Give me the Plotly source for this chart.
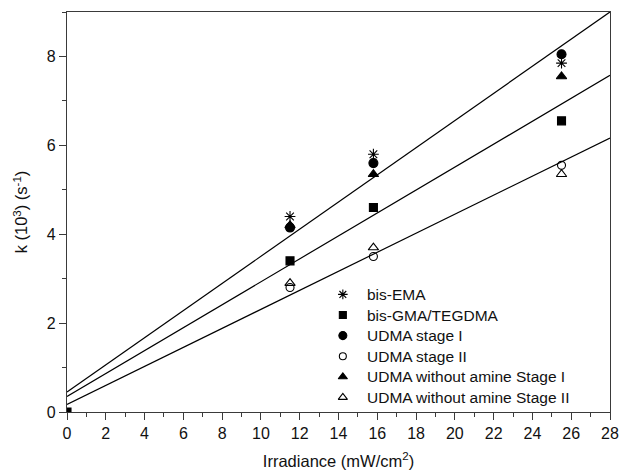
import plotly.graph_objects as go

# Irradiance levels (mW/cm^2) and rate constants k (10^3 s^-1)
irradiance = [11.5, 15.8, 25.5]
bis_ema = [4.4, 5.8, 7.85]
bis_gma_tegdma = [3.4, 4.6, 6.55]
udma_stage1 = [4.15, 5.6, 8.05]
udma_stage2 = [2.8, 3.5, 5.55]
udma_noamine_stage1 = [4.2, 5.35, 7.55]
udma_noamine_stage2 = [2.9, 3.7, 5.35]

# origin point shown for bis-GMA/TEGDMA
origin_x = [0.0]
origin_y = [0.0]

# linear fits: k = intercept + slope * irradiance
fit_intercepts = [0.45, 0.35, 0.17]
fit_slopes = [0.3054, 0.258, 0.214]
fit_x = [0, 28]

series_names = [
    "bis-EMA",
    "bis-GMA/TEGDMA",
    "UDMA stage I",
    "UDMA stage II",
    "UDMA without amine Stage I",
    "UDMA without amine Stage II",
]

FONT = "Liberation Sans, Arial, sans-serif"
INK = "#000000"
AXIS = "#3a3a3a"

fig = go.Figure()

for b, m in zip(fit_intercepts, fit_slopes):
    fig.add_trace(go.Scatter(
        x=fit_x, y=[b + m * xv for xv in fit_x], mode="lines",
        line=dict(color=INK, width=1.2), showlegend=False, hoverinfo="skip",
    ))

series_x = [irradiance, origin_x + irradiance, irradiance, irradiance, irradiance, irradiance]
series_y = [bis_ema, origin_y + bis_gma_tegdma, udma_stage1, udma_stage2,
            udma_noamine_stage1, udma_noamine_stage2]
symbols = ["asterisk-open", "square", "circle", "circle-open", "triangle-up", "triangle-up-open"]
sizes = [9, 8, 9, 8, 9, 9]
key_sizes = [8, 7, 8, 7, 8, 8]

for name, xs, ys, sym, size in zip(series_names, series_x, series_y, symbols, sizes):
    fig.add_trace(go.Scatter(
        x=xs, y=ys, mode="markers", name=name, showlegend=False,
        marker=dict(symbol=sym, size=size, color=INK,
                    line=dict(color=INK, width=1.1)),
    ))

# key: symbols on an overlay axis spanning the plot area, labels as annotations
key_sym_x = 0.508
key_text_x = 0.549
key_top = 0.294
key_step = 0.0515
for i, (name, sym, size) in enumerate(zip(series_names, symbols, key_sizes)):
    yk = key_top - i * key_step
    fig.add_trace(go.Scatter(
        x=[key_sym_x], y=[yk], mode="markers", xaxis="x2", yaxis="y2",
        showlegend=False, hoverinfo="skip",
        marker=dict(symbol=sym, size=size, color=INK, line=dict(color=INK, width=1.1)),
    ))
    fig.add_annotation(
        x=key_text_x, y=yk, xref="x2", yref="y2", text=name, showarrow=False,
        xanchor="left", yanchor="middle",
        font=dict(family=FONT, size=15.5, color="#111"),
    )

axis_common = dict(
    showline=True, linecolor=AXIS, linewidth=1.3, mirror=True,
    ticks="outside", ticklen=7, tickwidth=1.2, tickcolor=AXIS,
    showgrid=False, zeroline=False, automargin=False,
    tickfont=dict(family=FONT, size=16, color="#111"),
    title_font=dict(family=FONT, size=16.5, color="#111"),
)

fig.update_xaxes(
    range=[0, 28], dtick=2, tick0=0,
    minor=dict(dtick=1, ticks="outside", ticklen=3.5, tickcolor=AXIS, tickwidth=1.2),
    title_text="Irradiance (mW/cm<sup>2</sup>)", title_standoff=14,
    **axis_common,
)
fig.update_yaxes(
    range=[0, 9], dtick=2, tick0=0,
    minor=dict(dtick=1, ticks="outside", ticklen=3.5, tickcolor=AXIS, tickwidth=1.2),
    title_text="k (10<sup>3</sup>) (s<sup>-1</sup>)", title_standoff=14,
    **axis_common,
)

fig.update_layout(
    width=624, height=474,
    margin=dict(l=67, r=14, t=12, b=62),
    paper_bgcolor="white", plot_bgcolor="white",
    font=dict(family=FONT, color="#111"),
    showlegend=False,
    xaxis2=dict(overlaying="x", range=[0, 1], visible=False, fixedrange=True),
    yaxis2=dict(overlaying="y", range=[0, 1], visible=False, fixedrange=True),
)

fig.write_html("out.html")
